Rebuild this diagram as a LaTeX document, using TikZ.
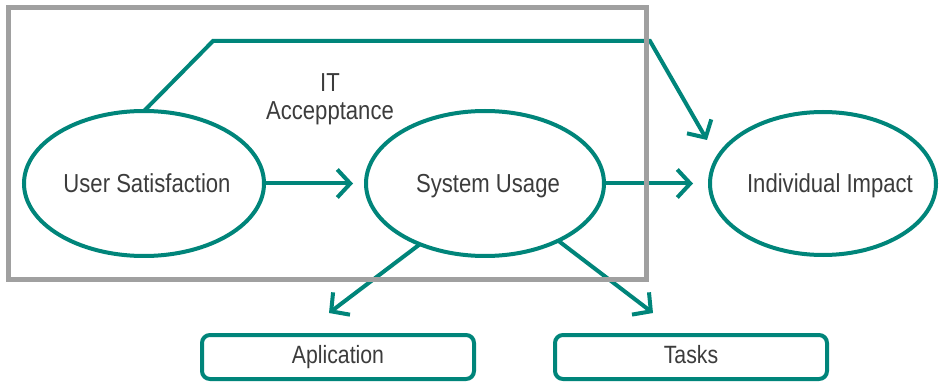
\documentclass[tikz,border=0pt]{standalone}
\usepackage{fontspec}
\setmainfont{Liberation Sans}[FakeStretch=0.85]
\usetikzlibrary{shapes.geometric,arrows.meta}
\definecolor{teal1}{HTML}{00857A}
\definecolor{boxgray}{HTML}{A0A0A0}
\definecolor{txt}{HTML}{3C3C3C}
\begin{document}
\begin{tikzpicture}[x=1pt,y=-1pt,
  ell/.style={ellipse,draw=teal1,line width=4pt,inner sep=0pt,outer sep=0pt},
  elltext/.style={font=\fontsize{26}{30}\selectfont,text=txt,text height=19pt,text depth=0pt,inner sep=0pt},
  rbox/.style={rectangle,rounded corners=8pt,draw=teal1,line width=4pt,
    minimum width=272pt,minimum height=44pt,inner sep=0pt,outer sep=0pt,
    font=\fontsize{25}{30}\selectfont,text=txt,text height=17.5pt,text depth=4pt},
  arr/.style={teal1,line width=4pt,-{Straight Barb[length=13pt,width=28pt]}},
  lbl/.style={font=\fontsize{26}{28.5}\selectfont,text=txt,align=center,inner sep=0pt}]
\useasboundingbox (0,0) rectangle (940,382);
\fill[white] (0,0) rectangle (940,382);

\node[ell,minimum width=240pt,minimum height=145pt,
  label={[elltext,xshift=3pt]center:User Satisfaction}] (us) at (144,183.5) {};
\node[ell,minimum width=238pt,minimum height=145pt,
  label={[elltext,xshift=3pt]center:System Usage}] (su) at (485,183.5) {};
\node[ell,minimum width=226pt,minimum height=143pt,
  label={[elltext,xshift=7pt]center:Individual Impact}] (ii) at (823,183.5) {};

\node[rbox] (apl) at (338,357) {Aplication};
\node[rbox] (tsk) at (691,357) {Tasks};

\node[lbl] (it) at (330,99.5) {IT\\Accepptance};

\coordinate (c1) at (213,41);
\coordinate (c2) at (650,41);
\coordinate (t3) at (707,140);
\coordinate (t4) at (329,313);
\coordinate (t5) at (653,313);

\draw[arr,shorten >=13pt] (us.east) -- (su.west);
\draw[arr,shorten >=17pt] (su.east) -- (ii.west);
\draw[arr] (us.north) -- (c1) -- (c2) -- (t3);
\draw[arr] (su.223) -- (t4);
\draw[arr] (su.-38) -- (t5);

\draw[boxgray,line width=5pt] (8,8) rectangle (646,279);
\end{tikzpicture}
\end{document}
